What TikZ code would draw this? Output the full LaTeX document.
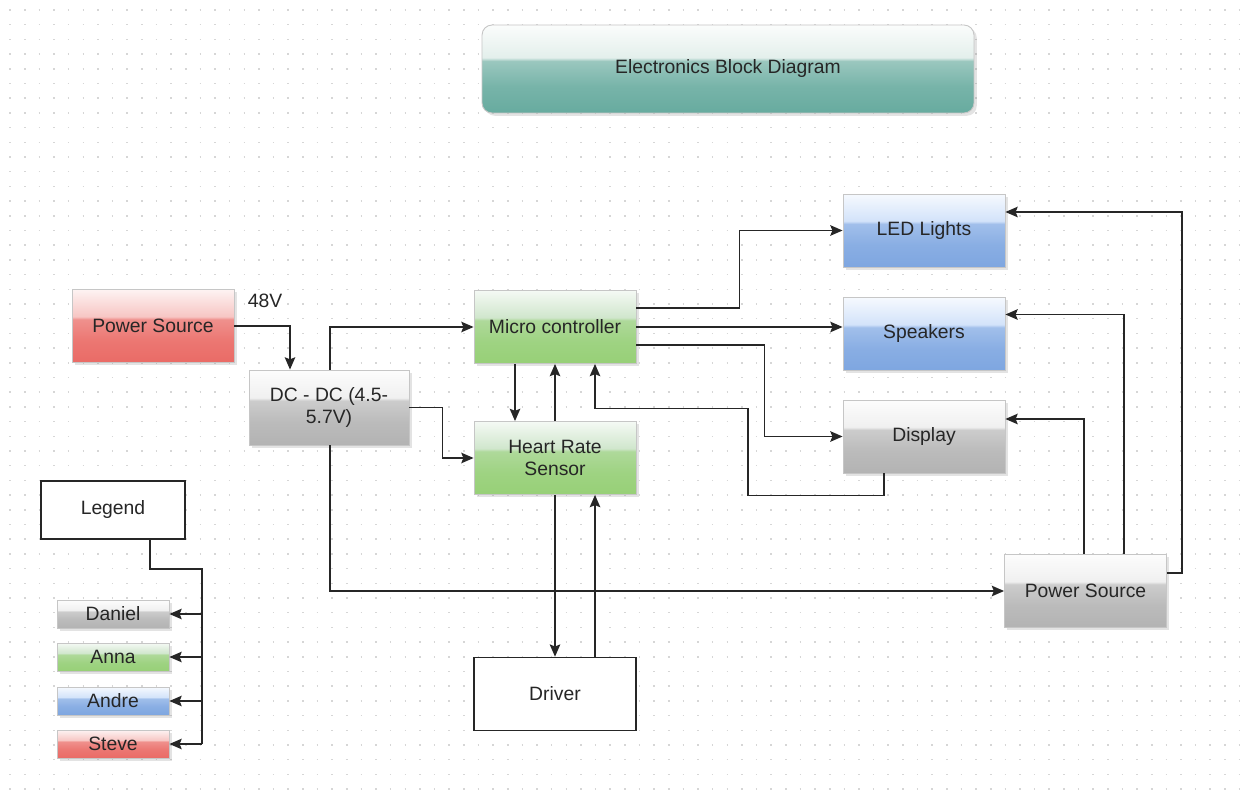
\documentclass[tikz,border=0pt]{standalone}
\usepackage{fontspec}
\setmainfont{Liberation Sans}
\usetikzlibrary{arrows.meta,calc,shadows}

\definecolor{redF}{HTML}{F8CECC}  \definecolor{redG}{HTML}{EA6B66}
\definecolor{grnF}{HTML}{D5E8D4}  \definecolor{grnG}{HTML}{97D077}
\definecolor{bluF}{HTML}{DAE8FC}  \definecolor{bluG}{HTML}{7EA6E0}
\definecolor{gryF}{HTML}{F5F5F5}  \definecolor{gryG}{HTML}{B3B3B3}
\definecolor{tealF}{HTML}{EEF5F2} \definecolor{tealG}{HTML}{67AB9F}

% glossy fill: #1 name, #2 light colour, #3 dark colour
\newcommand{\glossy}[3]{%
  \pgfdeclareverticalshading{#1}{100bp}{%
    color(0bp)=(#3); color(25bp)=(#3); color(40bp)=(#3!88!#2);
    color(54.5bp)=(#3!62!#2); color(56.5bp)=(#2!92!#3);
    color(75bp)=(#2!25!white); color(100bp)=(#2!25!white)}}
\glossy{glossred}{redF}{redG}
\glossy{glossgrn}{grnF}{grnG}
\glossy{glossblu}{bluF}{bluG}
\glossy{glossgry}{gryF}{gryG}
\glossy{glossteal}{tealF}{tealG}

\begin{document}
\begin{tikzpicture}[x=0.02cm, y=-0.02cm,
  >={Stealth[length=7pt, width=6pt, inset=1.2pt]},
  font=\fontsize{11}{13}\selectfont, text=black!85,
  box/.style={draw=gray!45, line width=0.5pt, minimum width=3.24cm, minimum height=1.46cm,
    align=center, shade, drop shadow={shadow xshift=1.6pt, shadow yshift=-1.6pt, opacity=0.22}},
  redbox/.style={box, shading=glossred},
  grnbox/.style={box, shading=glossgrn},
  blubox/.style={box, shading=glossblu},
  grybox/.style={box, shading=glossgry},
  chip/.style={minimum width=2.24cm, minimum height=0.56cm, inner sep=1pt},
  plainbox/.style={draw=black!85, line width=0.9pt, fill=white, minimum width=3.24cm,
    minimum height=1.46cm, align=center},
  wire/.style={line width=0.9pt, draw=black!85},
  gridline/.style={draw=black!16, line width=0.9pt, dash pattern=on 0.9pt off 7.43pt, dash phase=3pt},
]

	\fill[white] (0,0) rectangle (1252,807);
	\useasboundingbox (0,0) rectangle (1252,807);
	\foreach \gy in {10,24.7,...,800} \draw[gridline] (0,\gy) -- (1252,\gy); % dot grid

	% title
	\node[box, shading=glossteal, rounded corners=0.2cm, minimum width=9.84cm, minimum height=1.76cm]
		(title) at (728,69) {Electronics Block Diagram};

	% blocks
	\node[redbox] (psl) at (153,326) {Power Source};
	\node[grybox, minimum width=3.2cm, minimum height=1.5cm] (dcdc) at (329,407.5) {DC - DC (4.5-\\5.7V)};
	\node[grnbox] (micro) at (555,327) {Micro controller};
	\node[grnbox] (heart) at (555,458) {Heart Rate\\Sensor};
	\node[blubox] (led) at (924,230.5) {LED Lights};
	\node[blubox] (speakers) at (924,334) {Speakers};
	\node[grybox] (display) at (924,436.5) {Display};
	\node[grybox] (psr) at (1085.5,591) {Power Source};
	\node[plainbox] (driver) at (555,694) {Driver};
	\node (volt) at (265,301) {48V};

	% legend
	\node[plainbox, minimum width=2.88cm, minimum height=1.16cm] (legend) at (113,510) {Legend};
	\node[grybox, chip] (daniel) at (113,614) {Daniel};
	\node[grnbox, chip] (anna) at (113,657) {Anna};
	\node[blubox, chip] (andre) at (113,701) {Andre};
	\node[redbox, chip] (steve) at (113,744) {Steve};

	% connections
	\draw[wire,->] (psl.east) -| ($(dcdc.north)+(-39,0)$);
	\draw[wire,->] ($(dcdc.north)+(1,0)$) |- (micro.west);
	\draw[wire,->] (dcdc.east) -- ++(33,0) |- (heart.west);
	\draw[wire,->] ($(dcdc.south)+(1,0)$) |- (psr.west);

	\draw[wire,->] ($(micro.south)+(-40,0)$) -- ($(heart.north)+(-40,0)$);
	\draw[wire,->] (heart.north) -- (micro.south);
	\draw[wire,->] (heart.south) -- (driver.north);
	\draw[wire,->] ($(driver.north)+(40,0)$) -- ($(heart.south)+(40,0)$);

	\draw[wire,->] ($(micro.east)+(0,-19)$) -- ++(103,0) |- (led.west);
	\draw[wire,->] (micro.east) -- (micro.east -| speakers.west);
	\draw[wire,->] ($(micro.east)+(0,18)$) -- ++(128,0) |- (display.west);
	\draw[wire,->] ($(display.south)+(-40,0)$) -- ++(0,22) -- ++(-136,0) -- ++(0,-87)
		-| ($(micro.south)+(40,0)$);

	\draw[wire,->] ($(psr.north)+(-1.5,0)$) |- ($(display.east)+(0,-17.5)$);
	\draw[wire,->] ($(psr.north)+(38.5,0)$) |- ($(speakers.east)+(0,-19.5)$);
	\draw[wire,->] ($(psr.east)+(0,-18)$) -- ++(15,0) |- ($(led.east)+(0,-18.5)$);

	\coordinate (lbus) at (202,569);
	\draw[wire] ($(legend.south)+(37,0)$) |- (lbus) -- (lbus |- steve.east);
	\foreach \who in {daniel,anna,andre,steve}
		\draw[wire,->] (lbus |- \who.east) -- (\who.east);

\end{tikzpicture}
\end{document}
